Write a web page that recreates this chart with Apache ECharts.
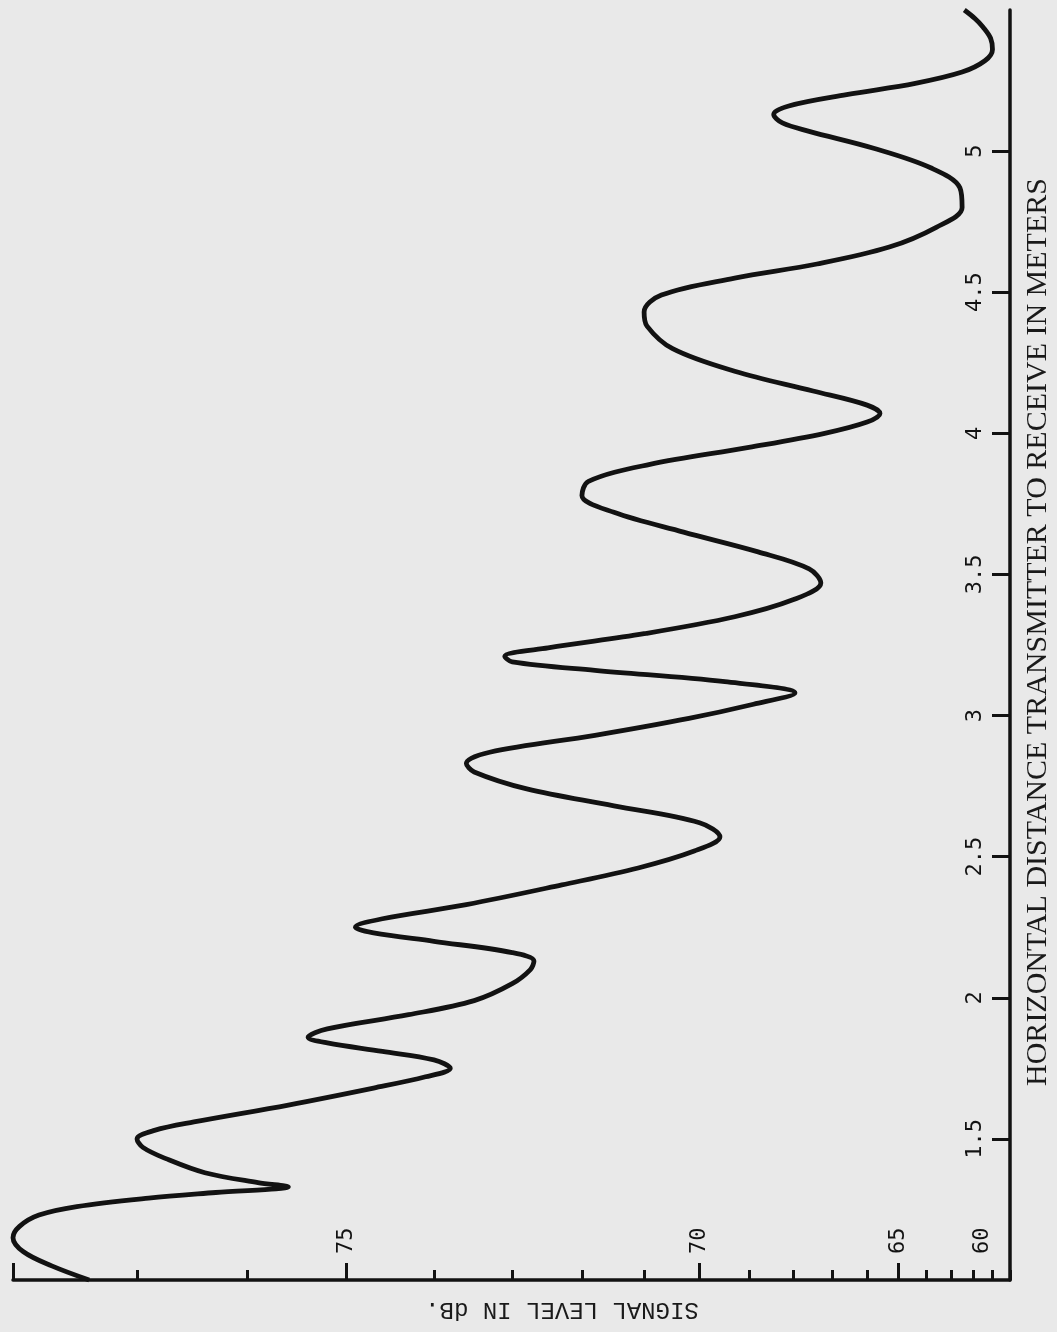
<!DOCTYPE html>
<html>
<head>
<meta charset="utf-8">
<script src="https://cdn.jsdelivr.net/npm/echarts@6/dist/echarts.min.js"></script>
<style>
html,body{margin:0;padding:0;background:#e9e9e9;}
#chart{width:1057px;height:1332px;}
</style>
</head>
<body>
<div id="chart"></div>
<script>
// ---- data ----
const signalTickDb = [60,61,62,63,64,65,66,67,68,69,70,71,72,73,74,75,76,77,78];
const signalMajorTickDb = [65,70,75,78];
const signalLabelDb = [60,65,70,75];
const distanceTicks = [1.5,2,2.5,3,3.5,4,4.5,5];
const distanceLabels = ['1.5','2','2.5','3','3.5','4','4.5','5'];

const curveDistance = [1.00,1.05,1.10,1.15,1.19,1.23,1.26,1.29,1.31,1.33,1.345,1.38,1.43,1.47,1.50,1.53,1.56,1.62,1.68,1.72,1.75,1.78,1.81,1.84,1.86,1.89,1.94,1.99,2.05,2.10,2.13,2.16,2.20,2.23,2.25,2.28,2.33,2.40,2.46,2.52,2.57,2.62,2.68,2.74,2.80,2.83,2.87,2.93,2.99,3.04,3.08,3.12,3.16,3.19,3.21,3.24,3.29,3.35,3.41,3.47,3.52,3.58,3.65,3.72,3.78,3.83,3.89,3.95,4.00,4.04,4.07,4.10,4.15,4.22,4.30,4.38,4.43,4.49,4.55,4.60,4.66,4.73,4.80,4.87,4.94,5.01,5.07,5.10,5.13,5.16,5.20,5.24,5.28,5.32,5.36,5.40,5.44,5.47,5.50];
const curveSignalDb = [77.4,77.7,77.92,78.0,77.95,77.8,77.5,76.9,76.3,75.6,75.9,76.4,76.75,76.95,77.0,76.85,76.5,75.6,74.7,74.1,73.8,74.0,74.6,75.2,75.4,75.2,74.3,73.5,73.0,72.75,72.7,73.0,74.0,74.7,74.9,74.6,73.6,72.3,71.1,70.1,69.6,70.0,71.5,72.8,73.5,73.6,73.3,71.8,70.2,68.9,67.95,69.5,71.8,73.0,73.1,72.5,71.0,69.3,68.0,67.3,67.6,68.8,70.3,71.5,72.0,71.9,70.9,69.0,67.2,66.0,65.6,66.0,67.5,69.3,70.5,70.95,71.0,70.7,69.3,67.4,65.3,63.6,62.5,62.6,63.8,65.8,67.6,68.25,68.45,68.1,66.6,64.4,62.5,61.4,61.0,61.1,61.5,61.9,62.4];

// signal axis is drawn on a linear amplitude (voltage) scale labelled in dB
const amp = db => Math.pow(10, db / 20);
const toDb = v => Math.round(20 * Math.log10(v));
const AMIN = amp(60), AMAX = amp(78);

const lineData = curveDistance.map((d, i) => [amp(curveSignalDb[i]), d]);

const ink = '#121212';
const labelFont = '"DejaVu Sans Mono"';

const chart = echarts.init(document.getElementById('chart'), null, {renderer: 'canvas'});
chart.setOption({
  backgroundColor: '#e9e9e9',
  animation: false,
  grid: {left: 13, right: 47, top: 10, bottom: 52},
  xAxis: [
    {
      type: 'value', min: AMIN, max: AMAX, inverse: true, position: 'bottom',
      axisLine: {show: true, lineStyle: {color: ink, width: 3.5}},
      axisTick: {show: true, inside: true, length: 10, lineStyle: {color: ink, width: 3},
                 customValues: signalTickDb.map(amp)},
      axisLabel: {show: false},
      splitLine: {show: false}
    },
    {
      type: 'value', min: AMIN, max: AMAX, inverse: true, position: 'bottom',
      axisLine: {show: false},
      axisTick: {show: true, inside: true, length: 17, lineStyle: {color: ink, width: 3},
                 customValues: signalMajorTickDb.map(amp)},
      axisLabel: {
        show: true, inside: true, rotate: 90, margin: 26,
        customValues: signalLabelDb.map(amp),
        color: ink, fontFamily: labelFont, fontSize: 22,
        formatter: v => { const d = toDb(v); return d === 60 ? '{s|60}' : String(d); },
        rich: {s: {fontFamily: labelFont, fontSize: 22, color: ink, padding: [0, 0, 56, 0]}}
      },
      splitLine: {show: false}
    }
  ],
  yAxis: {
    type: 'value', min: 1, max: 5.5, interval: 0.5, position: 'right',
    axisLine: {show: true, lineStyle: {color: ink, width: 3.5}},
    axisTick: {show: true, inside: true, length: 18, lineStyle: {color: ink, width: 3},
               customValues: distanceTicks},
    axisLabel: {
      show: true, inside: true, rotate: 90, margin: 24,
      customValues: distanceTicks,
      color: ink, fontFamily: labelFont, fontSize: 22,
      formatter: v => { const i = distanceTicks.indexOf(Math.round(v * 10) / 10); return i >= 0 ? distanceLabels[i] : ''; }
    },
    splitLine: {show: false}
  },
  series: [{
    type: 'line', xAxisIndex: 0, data: lineData, smooth: 0.35, showSymbol: false,
    lineStyle: {color: ink, width: 4.8}, clip: false
  }],
  graphic: [
    {type: 'text', x: 562, y: 1309, rotation: Math.PI,
     style: {text: 'SIGNAL LEVEL IN dB.', fill: '#1a1a1a', font: '24px "Liberation Mono"', align: 'center', verticalAlign: 'middle', textAlign: 'center', textVerticalAlign: 'middle'}},
    {type: 'text', x: 1038, y: 632, rotation: Math.PI / 2,
     style: {text: 'HORIZONTAL DISTANCE TRANSMITTER TO RECEIVE IN METERS', fill: '#1a1a1a', font: '30px "Liberation Serif"', align: 'center', verticalAlign: 'middle', textAlign: 'center', textVerticalAlign: 'middle'}}
  ]
});
</script>
</body>
</html>
